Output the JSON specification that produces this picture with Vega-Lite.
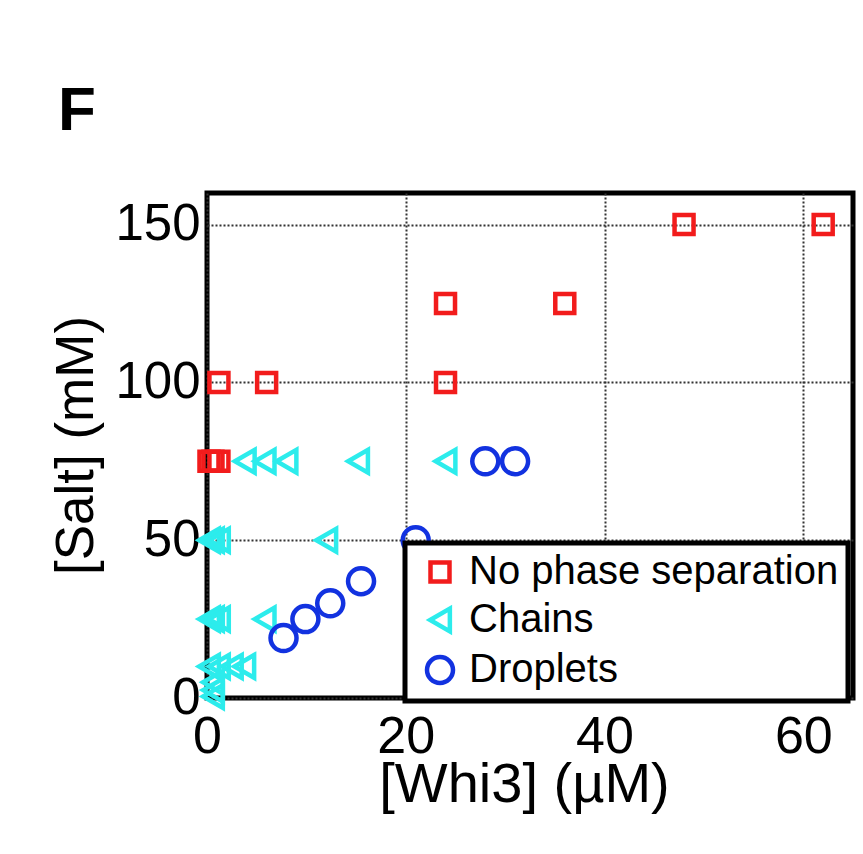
{
  "$schema": "https://vega.github.io/schema/vega-lite/v6.json",
  "width": 646,
  "height": 505,
  "autosize": "none",
  "padding": {"left": 207, "top": 193, "right": 10, "bottom": 156},
  "background": "white",
  "title": {"text": "F", "anchor": "start", "frame": "group", "dx": -149, "dy": 60, "offset": 61, "baseline": "alphabetic", "fontSize": 62, "fontWeight": "bold", "font": "Liberation Sans", "color": "black"},
  "config": {
    "font": "Liberation Sans",
    "view": {"stroke": "black", "strokeWidth": 5},
    "axis": {"grid": true, "gridDash": [2, 2], "gridColor": "#333333", "gridWidth": 2, "domain": false, "ticks": false, "tickSize": 0, "labelColor": "black", "titleColor": "black", "titleFontWeight": "normal", "labelFont": "Liberation Sans", "titleFont": "Liberation Sans", "labelFlush": false, "labelOverlap": false},
    "legend": {"orient": "none", "legendX": 198, "legendY": 350, "labelFontSize": 40, "labelLimit": 1000, "labelFont": "Liberation Sans", "labelColor": "black", "strokeColor": "black", "strokeWidth": 5, "fillColor": "white", "padding": 9, "rowPadding": 7, "symbolOffset": 6, "labelOffset": 9, "symbolStrokeWidth": 4.5}
  },
  "data": {"values": [
    {"whi3": 0.2, "salt": 75, "type": "No phase separation"},
    {"whi3": 0.6, "salt": 75, "type": "No phase separation"},
    {"whi3": 1.2, "salt": 75, "type": "No phase separation"},
    {"whi3": 1.2, "salt": 100, "type": "No phase separation"},
    {"whi3": 6, "salt": 100, "type": "No phase separation"},
    {"whi3": 24, "salt": 100, "type": "No phase separation"},
    {"whi3": 24, "salt": 125, "type": "No phase separation"},
    {"whi3": 36, "salt": 125, "type": "No phase separation"},
    {"whi3": 48, "salt": 150, "type": "No phase separation"},
    {"whi3": 62, "salt": 150, "type": "No phase separation"},
    {"whi3": 3.8, "salt": 75, "type": "Chains"},
    {"whi3": 5.8, "salt": 75, "type": "Chains"},
    {"whi3": 8, "salt": 75, "type": "Chains"},
    {"whi3": 15.2, "salt": 75, "type": "Chains"},
    {"whi3": 24, "salt": 75, "type": "Chains"},
    {"whi3": 0.2, "salt": 50, "type": "Chains"},
    {"whi3": 0.6, "salt": 50, "type": "Chains"},
    {"whi3": 1.2, "salt": 50, "type": "Chains"},
    {"whi3": 12, "salt": 50, "type": "Chains"},
    {"whi3": 0.2, "salt": 25, "type": "Chains"},
    {"whi3": 0.6, "salt": 25, "type": "Chains"},
    {"whi3": 1.2, "salt": 25, "type": "Chains"},
    {"whi3": 5.8, "salt": 25, "type": "Chains"},
    {"whi3": 0.2, "salt": 10, "type": "Chains"},
    {"whi3": 1.2, "salt": 10, "type": "Chains"},
    {"whi3": 2.5, "salt": 10, "type": "Chains"},
    {"whi3": 3.75, "salt": 10, "type": "Chains"},
    {"whi3": 0.6, "salt": 5, "type": "Chains"},
    {"whi3": 0.6, "salt": 2.5, "type": "Chains"},
    {"whi3": 0.6, "salt": 0.5, "type": "Chains"},
    {"whi3": 7.7, "salt": 19, "type": "Droplets"},
    {"whi3": 9.9, "salt": 25, "type": "Droplets"},
    {"whi3": 12.4, "salt": 30, "type": "Droplets"},
    {"whi3": 15.5, "salt": 37, "type": "Droplets"},
    {"whi3": 21, "salt": 50, "type": "Droplets"},
    {"whi3": 28, "salt": 75, "type": "Droplets"},
    {"whi3": 31, "salt": 75, "type": "Droplets"}
  ]},
  "mark": {"type": "point", "filled": false, "strokeWidth": 4.5, "opacity": 1},
  "encoding": {
    "x": {"field": "whi3", "type": "quantitative", "scale": {"domain": [0, 65], "nice": false, "zero": false},
      "axis": {"title": "[Whi3] (µM)", "values": [0, 20, 40, 60], "labelFontSize": 52, "labelPadding": 13, "titleFontSize": 56, "titleBaseline": "top", "titleY": 59, "titleX": 317}},
    "y": {"field": "salt", "type": "quantitative", "scale": {"domain": [0, 160], "nice": false, "zero": false},
      "axis": {"title": "[Salt] (mM)", "values": [0, 50, 100, 150], "labelFontSize": 51, "labelPadding": 7, "titleFontSize": 53, "titleAngle": -90, "titleBaseline": "alphabetic", "titleX": -115, "titleY": 252}},
    "color": {"field": "type", "type": "nominal", "scale": {"domain": ["No phase separation", "Chains", "Droplets"], "range": ["#f21c1c", "#2cecec", "#1232e0"]}, "legend": {"title": null}},
    "shape": {"field": "type", "type": "nominal", "scale": {"domain": ["No phase separation", "Chains", "Droplets"], "range": ["square", "triangle-left", "circle"]}, "legend": {"title": null}},
    "size": {"field": "type", "type": "nominal", "scale": {"domain": ["No phase separation", "Chains", "Droplets"], "range": [361, 676, 576]}, "legend": {"title": null}}
  }
}
